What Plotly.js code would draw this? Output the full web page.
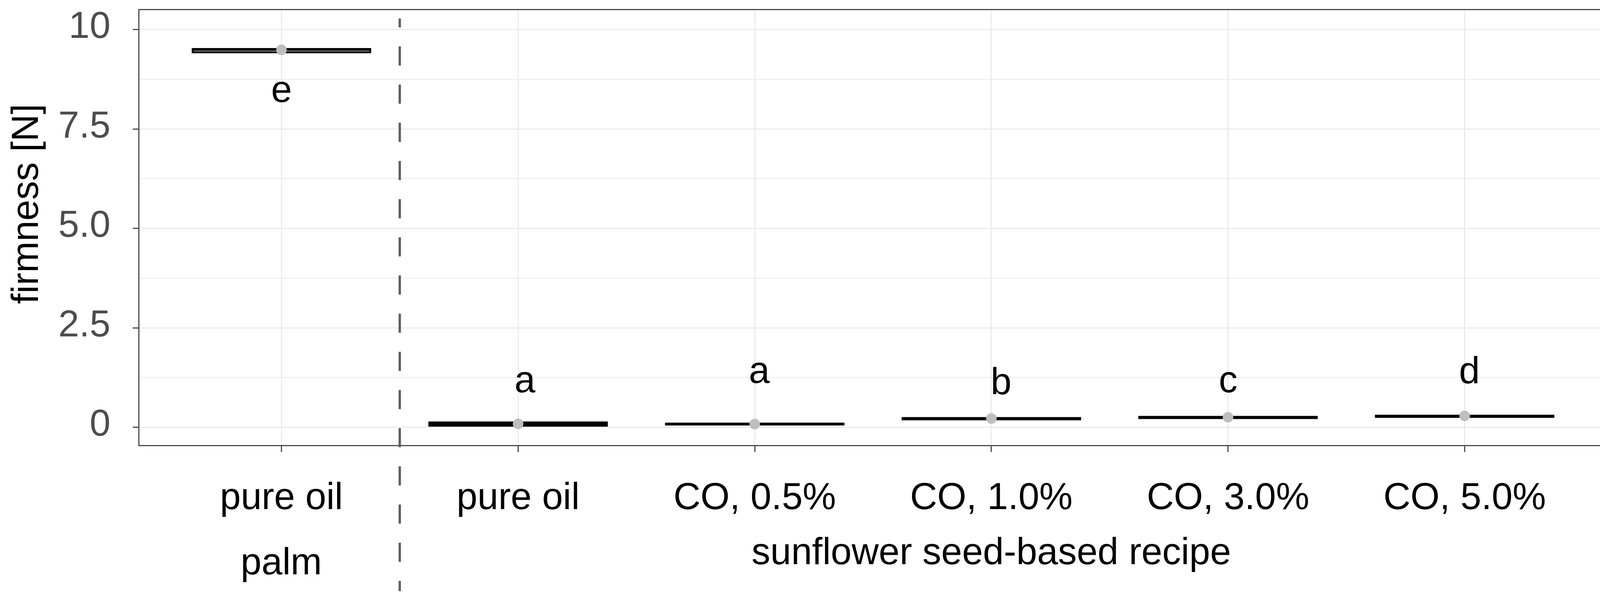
<!DOCTYPE html>
<html>
<head>
<meta charset="utf-8">
<script src="https://cdn.plot.ly/plotly-3.0.1.min.js"></script>
<style>html,body{margin:0;padding:0;background:#fff;overflow:hidden;}#chart{width:4142px;height:1528px;}</style>
</head>
<body>
<div id="chart"></div>
<script>
// ---- data ----
const positions   = [0, 1, 2, 3, 4, 5];
const tickLabels  = ['pure oil', 'pure oil', 'CO, 0.5%', 'CO, 1.0%', 'CO, 3.0%', 'CO, 5.0%'];
const groupLabels = ['palm', 'sunflower seed-based recipe'];
const groupCenters = [0, 3];
const q1Vals      = [9.43, 0.04, 0.07, 0.20, 0.23, 0.26];
const medianVals  = [9.49, 0.08, 0.08, 0.215, 0.245, 0.275];
const q3Vals      = [9.51, 0.12, 0.09, 0.23, 0.26, 0.29];
const meanVals    = [9.49, 0.085, 0.08, 0.22, 0.25, 0.285];
const letters     = ['e', 'a', 'a', 'b', 'c', 'd'];
const letterX     = [0, 1.03, 2.02, 3.04, 4.0, 5.02];
const letterY     = [8.51, 1.21, 1.44, 1.16, 1.21, 1.43];
const yTickVals   = [0, 2.5, 5, 7.5, 10];
const yTickText   = ['0', '2.5', '5.0', '7.5', '10'];
const separatorX  = 0.5;

const FONT = '"Liberation Sans", Arial, Helvetica, sans-serif';
const FS = 96;

const boxTrace = {
  type: 'box',
  x: positions,
  q1: q1Vals,
  median: medianVals,
  q3: q3Vals,
  lowerfence: q1Vals,
  upperfence: q3Vals,
  width: 0.75,
  fillcolor: '#ffffff',
  line: {color: '#000000', width: 5},
  boxpoints: false,
  hoverinfo: 'skip',
  showlegend: false
};

const meanTrace = {
  type: 'scatter',
  mode: 'markers',
  x: positions,
  y: meanVals,
  marker: {size: 27, color: '#bebebe', line: {width: 0}},
  hoverinfo: 'skip',
  showlegend: false
};

const annotations = [];
for (let i = 0; i < letters.length; i++) {
  annotations.push({
    x: letterX[i], y: letterY[i], xref: 'x', yref: 'y',
    text: letters[i], showarrow: false,
    xanchor: 'center', yanchor: 'middle',
    font: {family: FONT, size: FS, color: '#000000'}
  });
}
const groupY = [-0.267, -0.2437];
for (let i = 0; i < groupLabels.length; i++) {
  annotations.push({
    x: groupCenters[i], y: groupY[i], xref: 'x', yref: 'paper',
    text: groupLabels[i], showarrow: false,
    xanchor: 'center', yanchor: 'middle',
    font: {family: FONT, size: FS, color: '#000000'}
  });
}
annotations.push({
  x: -0.078, y: 0.5544, xref: 'paper', yref: 'paper',
  text: 'firmness [N]', showarrow: false, textangle: -90,
  xanchor: 'center', yanchor: 'middle',
  font: {family: FONT, size: FS, color: '#000000'}
});

const dashList = ['23px', '48.7px'];
for (let k = 0; k < 16; k++) { dashList.push('49px', '48.7px'); }

const layout = {
  width: 4142,
  height: 1528,
  margin: {l: 357, r: 29, t: 26, b: 389, pad: 0},
  paper_bgcolor: '#ffffff',
  plot_bgcolor: '#ffffff',
  font: {family: FONT, size: FS, color: '#000000'},
  showlegend: false,
  xaxis: {
    range: [-0.6, 5.6],
    tickmode: 'array',
    tickvals: positions,
    ticktext: tickLabels,
    tickfont: {family: FONT, size: FS, color: '#000000'},
    ticks: 'outside', ticklen: 15, tickwidth: 3, tickcolor: '#4d4d4d',
    ticklabelstandoff: 31,
    showgrid: true, gridcolor: '#ebebeb', gridwidth: 3,
    zeroline: false,
    showline: true, mirror: true, linecolor: '#4d4d4d', linewidth: 3,
    fixedrange: true
  },
  yaxis: {
    range: [-0.447, 10.488],
    tickmode: 'array',
    tickvals: yTickVals,
    ticktext: yTickText,
    tickfont: {family: FONT, size: FS, color: '#4d4d4d'},
    ticks: 'outside', ticklen: 14, tickwidth: 3, tickcolor: '#4d4d4d',
    ticklabelstandoff: 38,
    ticklabelshift: -12,
    showgrid: true, gridcolor: '#ebebeb', gridwidth: 3,
    minor: {tickmode: 'array', tickvals: [1.25, 3.75, 6.25, 8.75], showgrid: true, gridcolor: '#ebebeb', gridwidth: 2, ticks: ''},
    zeroline: false,
    showline: true, mirror: true, linecolor: '#4d4d4d', linewidth: 3,
    fixedrange: true
  },
  shapes: [{
    type: 'line', xref: 'x', yref: 'paper',
    x0: separatorX, x1: separatorX, y0: 0.981, y1: -0.336,
    line: {color: '#5e5e5e', width: 6, dash: dashList.join(',')},
    layer: 'above'
  }],
  annotations: annotations
};

Plotly.newPlot('chart', [boxTrace, meanTrace], layout, {staticPlot: true, displayModeBar: false});
</script>
</body>
</html>
